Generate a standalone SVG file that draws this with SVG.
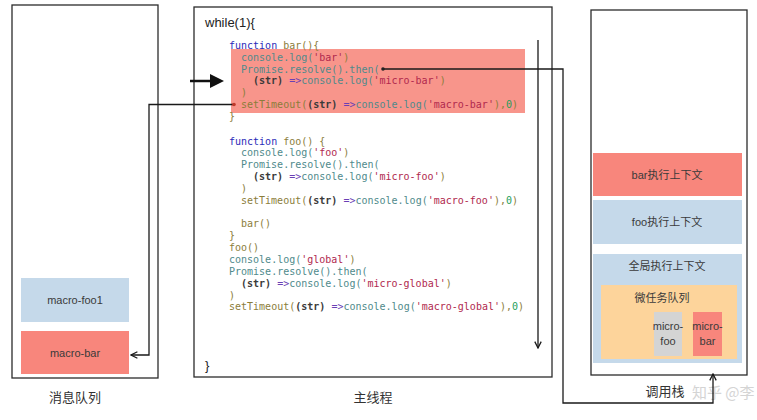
<svg xmlns="http://www.w3.org/2000/svg" width="757" height="420" viewBox="0 0 757 420">
<defs>
<style>
.box{fill:none;stroke:#2b2b2b;stroke-width:1.3}
.lbl{font-family:"Noto Sans CJK SC","Liberation Sans",sans-serif;font-size:13px;fill:#333;text-anchor:middle}
.nt{font-family:"Liberation Sans","Noto Sans CJK SC",sans-serif;font-size:11px;fill:#3a3a3a;text-anchor:middle}
.code{font-family:"DejaVu Sans Mono","Liberation Mono",monospace;font-size:10px;fill:#8b7d3a}
.kw{fill:#2a2ab8}
.cn{fill:#4f8a8b}
.st{fill:#b0284e}
.pr{fill:#3a3a3a;font-weight:bold}
.ar{fill:#6a3fb5}
.nm{fill:#1e9e5a}
.conn{fill:none;stroke:#1a1a1a;stroke-width:1.3}
</style>
<marker id="chev" viewBox="0 0 10 10" refX="9" refY="5" markerWidth="8" markerHeight="8" orient="auto-start-reverse" markerUnits="userSpaceOnUse">
<path d="M1 1 L9 5 L1 9" fill="none" stroke="#1a1a1a" stroke-width="1.6"/>
</marker>
</defs>
<rect width="757" height="420" fill="#fff"/>

<g id="queue">
<rect class="box" x="12" y="5" width="146" height="373"/>
<text class="lbl" x="75" y="402">消息队列</text>
</g>
<g id="macro-foo1">
<rect x="21" y="278" width="108" height="44" fill="#c5d9ea"/>
<text class="nt" x="75" y="304">macro-foo1</text>
</g>
<g id="macro-bar">
<rect x="21" y="331" width="108" height="43" fill="#f8867c"/>
<text class="nt" x="75" y="357">macro-bar</text>
</g>

<g id="main">
<rect class="box" x="194" y="7" width="358" height="370"/>
<rect x="231" y="49" width="294" height="64" fill="#f8958b"/>
<text x="205" y="27" font-family="Liberation Sans,sans-serif" font-size="13" fill="#222">while(1){</text>
<text x="205" y="370" font-family="Liberation Sans,sans-serif" font-size="13" fill="#222">}</text>
<g class="code">
<text x="229" y="49"><tspan class="kw">function</tspan> bar(){</text>
<text x="241" y="60.8"><tspan class="cn">console.log(</tspan><tspan class="st">'bar'</tspan>)</text>
<text x="241" y="72.6"><tspan class="cn">Promise.resolve().then(</tspan></text>
<text x="253" y="84.4"><tspan class="pr">(str)</tspan> <tspan class="ar">=&gt;</tspan><tspan class="cn">console.log(</tspan><tspan class="st">'micro-bar'</tspan>)</text>
<text x="241" y="96.2">)</text>
<text x="241" y="108">setTimeout(<tspan class="pr">(str)</tspan> <tspan class="ar">=&gt;</tspan><tspan class="cn">console.log(</tspan><tspan class="st">'macro-bar'</tspan>),<tspan class="nm">0</tspan>)</text>
<text x="229" y="119.8">}</text>

<text x="229" y="144.5"><tspan class="kw">function</tspan> foo() {</text>
<text x="241" y="156.3"><tspan class="cn">console.log(</tspan><tspan class="st">'foo'</tspan>)</text>
<text x="241" y="168.2"><tspan class="cn">Promise.resolve().then(</tspan></text>
<text x="253" y="180"><tspan class="pr">(str)</tspan> <tspan class="ar">=&gt;</tspan><tspan class="cn">console.log(</tspan><tspan class="st">'micro-foo'</tspan>)</text>
<text x="241" y="191.9">)</text>
<text x="241" y="203.7">setTimeout(<tspan class="pr">(str)</tspan> <tspan class="ar">=&gt;</tspan><tspan class="cn">console.log(</tspan><tspan class="st">'macro-foo'</tspan>),<tspan class="nm">0</tspan>)</text>
<text x="241" y="227.4">bar()</text>
<text x="229" y="239.3">}</text>
<text x="229" y="251.1">foo()</text>
<text x="229" y="263"><tspan class="cn">console.log(</tspan><tspan class="st">'global'</tspan>)</text>
<text x="229" y="274.8"><tspan class="cn">Promise.resolve().then(</tspan></text>
<text x="241" y="286.7"><tspan class="pr">(str)</tspan> <tspan class="ar">=&gt;</tspan><tspan class="cn">console.log(</tspan><tspan class="st">'micro-global'</tspan>)</text>
<text x="229" y="298.5">)</text>
<text x="229" y="310.4">setTimeout(<tspan class="pr">(str)</tspan> <tspan class="ar">=&gt;</tspan><tspan class="cn">console.log(</tspan><tspan class="st">'macro-global'</tspan>),<tspan class="nm">0</tspan>)</text>
</g>
<text class="lbl" x="373" y="402">主线程</text>
</g>

<g id="stack">
<rect class="box" x="591" y="10" width="156" height="365"/>
<text class="lbl" x="665" y="396">调用栈</text>
<text x="692" y="398" font-family="Noto Sans CJK SC,sans-serif" font-size="15" fill="#d4d4d4">知乎 @李</text>
</g>
<g id="bar-ctx">
<rect x="593" y="153" width="149" height="43" fill="#f8867c"/>
<text class="nt" x="667" y="179">bar执行上下文</text>
</g>
<g id="foo-ctx">
<rect x="593" y="200" width="149" height="44" fill="#c5d9ea"/>
<text class="nt" x="667" y="226">foo执行上下文</text>
</g>
<g id="global-ctx">
<rect x="593" y="254" width="149" height="109" fill="#c5d9ea"/>
<text class="nt" x="667" y="270">全局执行上下文</text>
</g>
<g id="micro-queue">
<rect x="601" y="285" width="136" height="74" fill="#fdd49b"/>
<text class="nt" x="662" y="302">微任务队列</text>
</g>
<g id="micro-foo">
<rect x="654" y="312" width="28" height="44" fill="#d4d4d4"/>
<text class="nt" x="668" y="330" font-size="9">micro-</text>
<text class="nt" x="668" y="345" font-size="9">foo</text>
</g>
<g id="micro-bar">
<rect x="693" y="312" width="29" height="44" fill="#f8867c"/>
<text class="nt" x="707.5" y="330" font-size="9">micro-</text>
<text class="nt" x="707.5" y="345" font-size="9">bar</text>
</g>

<g id="connectors">
<path class="conn" d="M234 104.5 H149 V355 H131" marker-end="url(#chev)"/>
<circle cx="234" cy="104.5" r="1.8" fill="#c0392b"/>
<path class="conn" d="M383 69 H563 V403 H713 V374" marker-end="url(#chev)"/>
<circle cx="383" cy="69" r="1.8" fill="#222"/>
<path class="conn" d="M538 40 V348" marker-end="url(#chev)" stroke-width="1.6"/>
<path d="M190 81 H212" stroke="#111" stroke-width="2.5"/>
<path d="M210 74 L224 81 L210 88 Z" fill="#111"/>
</g>
</svg>
